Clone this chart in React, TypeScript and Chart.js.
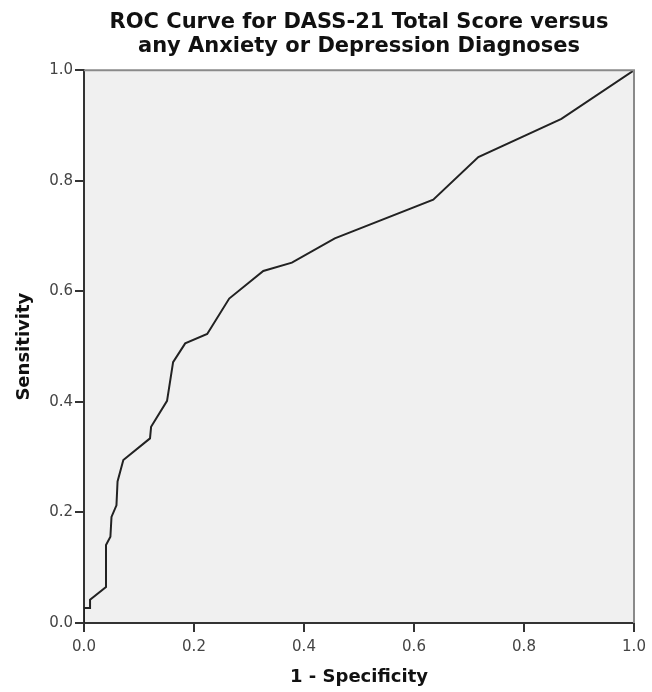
import React, { useEffect, useRef } from "react";
import { Chart, registerables } from "chart.js";

Chart.register(...registerables);

const fpr = [0, 0, 0.011, 0.011, 0.04, 0.04, 0.048, 0.05, 0.059, 0.061, 0.0715, 0.12, 0.122, 0.151, 0.162, 0.184, 0.224, 0.264, 0.326, 0.378, 0.456, 0.635, 0.717, 0.868, 1.0];
const sensitivity = [0, 0.027, 0.027, 0.042, 0.065, 0.141, 0.156, 0.192, 0.213, 0.256, 0.295, 0.334, 0.355, 0.402, 0.472, 0.506, 0.523, 0.587, 0.637, 0.652, 0.696, 0.766, 0.843, 0.912, 1.0];
const titleLines = ["ROC Curve for DASS-21 Total Score versus", "any Anxiety or Depression Diagnoses"];
const xTitle = "1 - Specificity";
const yTitle = "Sensitivity";
const tickValues = [0, 0.2, 0.4, 0.6, 0.8, 1.0];

const FONT = "'DejaVu Sans', Verdana, sans-serif";

const framePlugin = {
  id: "frame",
  beforeDraw(chart: any) {
    const { ctx, chartArea: a } = chart;
    ctx.save();
    ctx.fillStyle = "#f0f0f0";
    ctx.fillRect(a.left, a.top, a.right - a.left, a.bottom - a.top);
    ctx.restore();
  },
  afterDatasetsDraw(chart: any) {
    const { ctx, chartArea: a } = chart;
    ctx.save();
    ctx.strokeStyle = "#8a8a8a";
    ctx.lineWidth = 2;
    ctx.beginPath();
    ctx.moveTo(a.left, a.top);
    ctx.lineTo(a.right, a.top);
    ctx.lineTo(a.right, a.bottom);
    ctx.stroke();
    ctx.restore();
  },
};

export default function App() {
  const ref = useRef<HTMLCanvasElement>(null);
  useEffect(() => {
    if (!ref.current) return;
    const chart = new Chart(ref.current, {
      type: "scatter",
      data: {
        datasets: [
          {
            data: fpr.map((x, i) => ({ x, y: sensitivity[i] })),
            showLine: true,
            borderColor: "#222",
            borderWidth: 2,
            pointRadius: 0,
            tension: 0,
          },
        ],
      },
      options: {
        responsive: false,
        animation: false,
        layout: { padding: { left: 0, right: 18, top: 0, bottom: 0 } },
        plugins: {
          legend: { display: false },
          tooltip: { enabled: false },
          title: {
            display: true,
            fullSize: false,
            text: titleLines,
            color: "#111",
            font: { family: FONT, size: 21, weight: "bold", lineHeight: 1.15 },
            padding: { top: 10, bottom: 12 },
          },
        },
        scales: {
          x: {
            type: "linear",
            min: 0,
            max: 1,
            afterBuildTicks: (s: any) => {
              s.ticks = tickValues.map((v) => ({ value: v }));
            },
            afterFit: (s: any) => {
              s.height = 69;
            },
            ticks: {
              color: "#444",
              font: { family: FONT, size: 15 },
              padding: 6,
              callback: (v: any) => Number(v).toFixed(1),
            },
            grid: { drawOnChartArea: false, drawTicks: true, tickLength: 9, color: "#333", lineWidth: 2 },
            border: { display: true, color: "#333", width: 2 },
            title: {
              display: true,
              text: xTitle,
              color: "#111",
              font: { family: FONT, size: 18, weight: "bold" },
              padding: { top: 0, bottom: 4 },
            },
          },
          y: {
            type: "linear",
            min: 0,
            max: 1,
            afterBuildTicks: (s: any) => {
              s.ticks = tickValues.map((v) => ({ value: v }));
            },
            afterFit: (s: any) => {
              s.width = 84;
            },
            ticks: {
              color: "#444",
              font: { family: FONT, size: 15 },
              padding: 2,
              callback: (v: any) => Number(v).toFixed(1),
            },
            grid: { drawOnChartArea: false, drawTicks: true, tickLength: 9, color: "#333", lineWidth: 2 },
            border: { display: true, color: "#333", width: 2 },
            title: {
              display: true,
              text: yTitle,
              color: "#111",
              font: { family: FONT, size: 18, weight: "bold" },
              padding: { top: 14, bottom: 0 },
            },
          },
        },
      },
      plugins: [framePlugin],
    });
    return () => chart.destroy();
  }, []);
  return (
    <div style={{ position: "fixed", left: 0, top: 0, width: 652, height: 692, background: "#fff" }}>
      <canvas ref={ref} width={652} height={692} style={{ width: 652, height: 692, display: "block" }} />
    </div>
  );
}
